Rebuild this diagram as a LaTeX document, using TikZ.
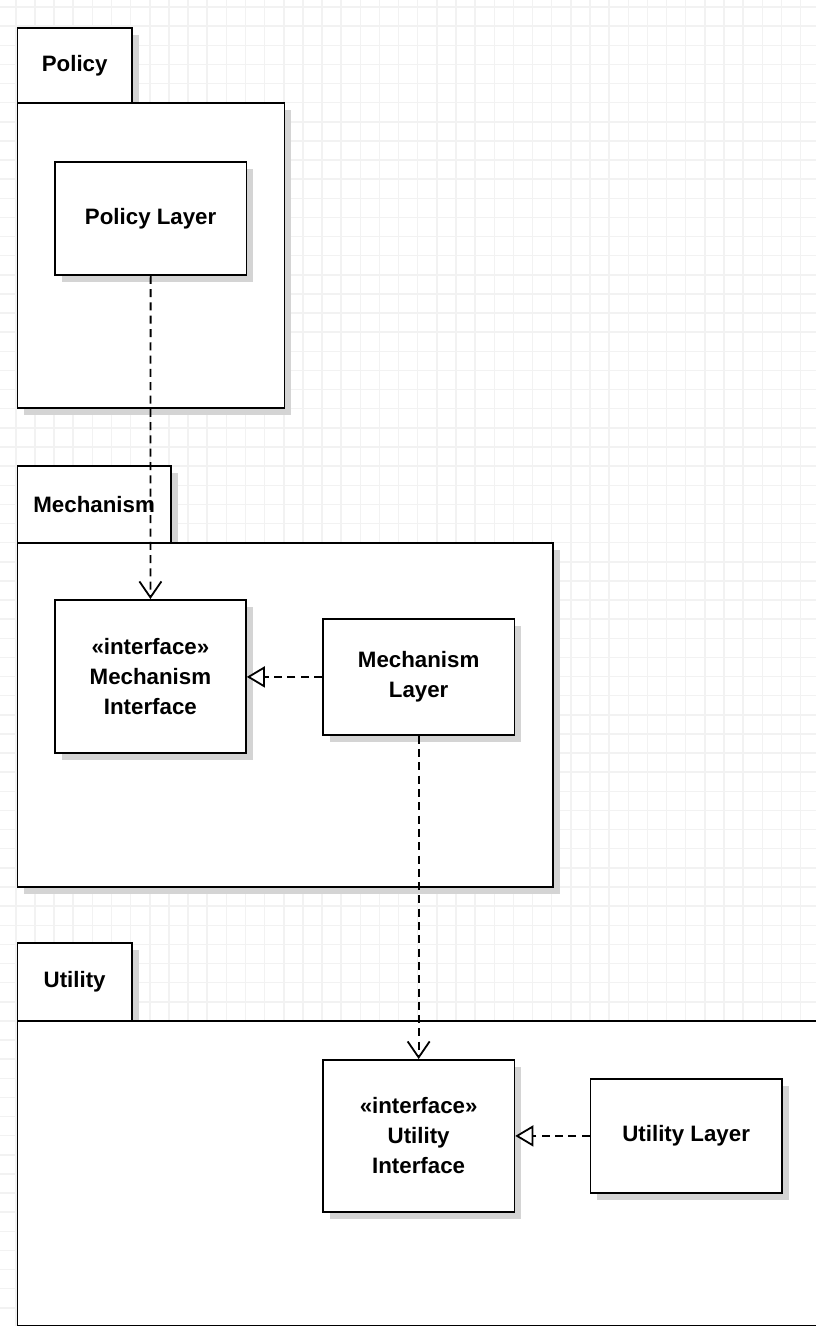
\documentclass[tikz,border=0pt]{standalone}
\usepackage{fontspec}
\setmainfont{Liberation Sans}
\usetikzlibrary{arrows.meta,shadows}
\definecolor{gridc}{HTML}{F2F2F2}
\definecolor{shadc}{HTML}{D4D4D4}
\tikzset{
  gridline/.style={draw=gridc, line width=1.5pt},
  umlbox/.style={draw=black, fill=white, line width=1.8pt, anchor=north west,
    inner sep=0pt, align=center,
    font=\fontsize{22.3}{30}\selectfont\bfseries,
    drop shadow={shadow xshift=7pt, shadow yshift=-7pt, fill=shadc, opacity=1}},
  dep/.style={line width=1.8pt, dash pattern=on 8pt off 5.3pt,
    -{Straight Barb[length=16pt, width=22pt, line width=1.8pt]}},
  real/.style={line width=1.8pt, dash pattern=on 8pt off 5.3pt,
    -{Triangle[length=18pt, width=21pt, fill=white, line width=1.8pt]}}
}
\begin{document}
\begin{tikzpicture}[x=1pt, y=-1pt]
\useasboundingbox (0,0) rectangle (816,1326);
\clip (0,0) rectangle (816,1326);
\fill[white] (0,0) rectangle (816,1326);
% background grid
\foreach \i in {0,...,42} \draw[gridline] ({15.8+\i*19.14},0) -- ({15.8+\i*19.14},1326);
\foreach \j in {0,...,69} \draw[gridline] (0,{7+\j*19.13}) -- (816,{7+\j*19.13});

% Policy package
\node[umlbox, minimum width=114.5pt, minimum height=75pt] (ptab) at (16.5,27) {Policy};
\node[umlbox, minimum width=267pt, minimum height=305pt] (pbody) at (16.5,102) {};
\node[umlbox, minimum width=191.5pt, minimum height=113pt] (pl) at (54,161) {Policy Layer};

% Mechanism package
\node[umlbox, minimum width=153.5pt, minimum height=77pt] (mtab) at (16.5,465) {Mechanism};
\node[umlbox, minimum width=535.5pt, minimum height=344pt] (mbody) at (16.5,542) {};
\node[umlbox, minimum width=191pt, minimum height=153pt] (mi) at (54,599) {«interface»\\Mechanism\\Interface};
\node[umlbox, minimum width=191.5pt, minimum height=116pt] (ml) at (322,618) {Mechanism\\Layer};

% Utility package
\node[umlbox, minimum width=114.5pt, minimum height=78pt] (utab) at (16.5,942) {Utility};
\node[umlbox, minimum width=820pt, minimum height=304.5pt] (ubody) at (16.5,1020) {};
\node[umlbox, minimum width=191.5pt, minimum height=152pt] (ui) at (322,1059) {«interface»\\Utility\\Interface};
\node[umlbox, minimum width=191.5pt, minimum height=114pt] (ul) at (589.5,1078) {Utility Layer};

% connectors
\draw[dep] (pl.south) -- (mi.north);
\draw[real] (ml.west) -- (mi.east |- ml.west);
\draw[dep] (ml.south) -- (ui.north);
\draw[real] (ul.west) -- (ui.east |- ul.west);
\end{tikzpicture}
\end{document}
